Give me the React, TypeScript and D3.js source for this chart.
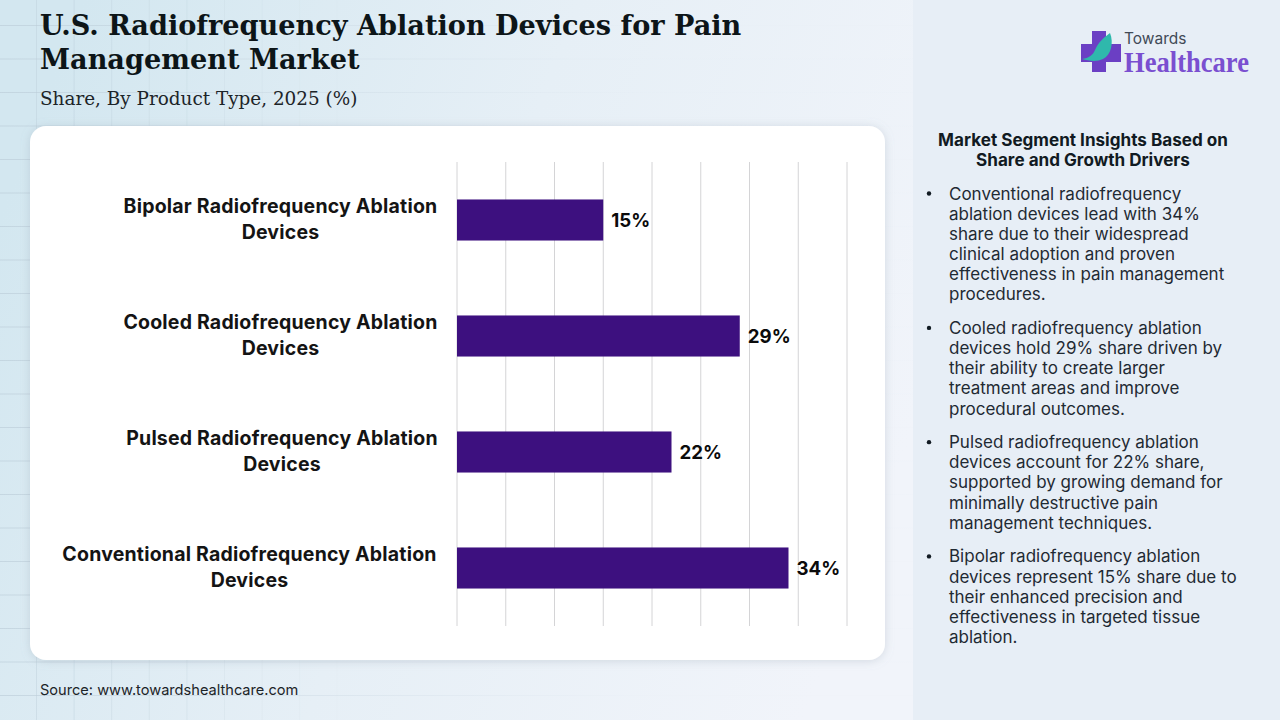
import { useMemo } from "react";
import * as d3 from "d3";

const categories = [
  ["Bipolar Radiofrequency Ablation", "Devices"],
  ["Cooled Radiofrequency Ablation", "Devices"],
  ["Pulsed Radiofrequency Ablation", "Devices"],
  ["Conventional Radiofrequency Ablation", "Devices"],
];
const shares = [15, 29, 22, 34];
const ticks = [0, 5, 10, 15, 20, 25, 30, 35, 40];

const titleLines = ["U.S. Radiofrequency Ablation Devices for Pain", "Management Market"];
const subtitle = "Share, By Product Type, 2025 (%)";
const source = "Source: www.towardshealthcare.com";

const panelTitle = ["Market Segment Insights Based on", "Share and Growth Drivers"];
const bullets = [
  ["Conventional radiofrequency", "ablation devices lead with 34%", "share due to their widespread", "clinical adoption and proven", "effectiveness in pain management", "procedures."],
  ["Cooled radiofrequency ablation", "devices hold 29% share driven by", "their ability to create larger", "treatment areas and improve", "procedural outcomes."],
  ["Pulsed radiofrequency ablation", "devices account for 22% share,", "supported by growing demand for", "minimally destructive pain", "management techniques."],
  ["Bipolar radiofrequency ablation", "devices represent 15% share due to", "their enhanced precision and", "effectiveness in targeted tissue", "ablation."],
];

const SANS = "Inter, 'Noto Sans', sans-serif";
const SERIF = "'DejaVu Serif', serif";
const PLOT = { left: 457, right: 847, top: 162, bottom: 626 };
const BAR_COLOR = "#3d107f";

export default function App() {
  const x = useMemo(() => d3.scaleLinear().domain([0, 40]).range([PLOT.left, PLOT.right]), []);
  const y = useMemo(
    () =>
      d3
        .scaleBand<number>()
        .domain(categories.map((_, i) => i))
        .range([PLOT.top, PLOT.bottom])
        .paddingInner(0.646)
        .paddingOuter(0.323),
    []
  );

  // background grid, only decoration
  const gridX = d3.range(36, 920, 37.6);
  const gridY = d3.range(25, 720, 33.5);

  let lineY = 199.5;
  const bulletRows = bullets.map((lines) => {
    const top = lineY;
    lineY += lines.length * 20.15 + 13.5;
    return { lines, top };
  });

  return (
    <div style={{ position: "absolute", left: 0, top: 0 }}>
      <svg width={1280} height={720} style={{ display: "block" }}>
        <defs>
          <linearGradient id="bg" x1="0" y1="0.3" x2="1" y2="0.6">
            <stop offset="0" stopColor="#d3e7f0" />
            <stop offset="0.5" stopColor="#e6eff6" />
            <stop offset="1" stopColor="#f1f4fa" />
          </linearGradient>
          <linearGradient id="gridFade" x1="0" x2="1" y1="0" y2="0">
            <stop offset="0" stopColor="#b9cad6" stopOpacity={0.6} />
            <stop offset="0.7" stopColor="#c8d4e0" stopOpacity={0.03} />
          </linearGradient>
          <filter id="cardShadow" x="-5%" y="-5%" width="110%" height="110%">
            <feDropShadow dx="0" dy="1" stdDeviation="5" floodColor="#8a9aa8" floodOpacity={0.3} />
          </filter>
        </defs>

        <rect width={913} height={720} fill="url(#bg)" />
        <rect x={913} width={367} height={720} fill="#e7eef6" />
        <g>
          {gridX.map((d) => (
            <rect key={d} x={d} y={0} width={1} height={720} fill="#bccdd8" opacity={Math.max(0, 0.5 - d / 700)} />
          ))}
          {gridY.map((d) => (
            <rect key={d} x={0} y={d} width={913} height={1} fill="url(#gridFade)" />
          ))}
        </g>

        <g fontFamily={SERIF} fill="#0d1518">
          {titleLines.map((t, i) => (
            <text key={t} x={40} y={35 + i * 34} fontSize={27.15} fontWeight={700}>
              {t}
            </text>
          ))}
          <text x={40} y={104.5} fontSize={18.4} fill="#1c2428">
            {subtitle}
          </text>
        </g>

        <rect x={30} y={126} width={855} height={534} rx={16} fill="#fff" filter="url(#cardShadow)" />

        {ticks.map((t) => (
          <line key={t} x1={x(t)} x2={x(t)} y1={PLOT.top} y2={PLOT.bottom} stroke="#d4d4d6" strokeWidth={1} />
        ))}

        {shares.map((v, i) => {
          const by = y(i) as number;
          const bh = y.bandwidth();
          return (
            <g key={i}>
              <rect x={x(0)} y={by} width={x(v) - x(0)} height={bh} fill={BAR_COLOR} />
              <text x={x(v) + 8} y={by + bh / 2 + 7} fontFamily={SANS} fontSize={18.7} fontWeight={700} fill="#0b0b0b">
                {v}%
              </text>
              <text fontFamily={SANS} fontSize={19.5} fontWeight={700} fill="#141414" textAnchor="middle" letterSpacing={0.2}>
                {categories[i].map((l, j) => {
                  const cx = i === 3 ? 249.5 : i === 2 ? 282 : 280.5;
                  return (
                    <tspan key={l} x={cx} y={by + j * 26 + 13.8}>
                      {l}
                    </tspan>
                  );
                })}
              </text>
            </g>
          );
        })}

        <text x={40} y={695} fontFamily={SANS} fontSize={14.6} fill="#1c2428">
          {source}
        </text>

        <g fontFamily={SANS} fill="#111a22">
          {panelTitle.map((t, i) => (
            <text key={t} x={1083} y={146 + i * 20} fontSize={17.1} fontWeight={700} textAnchor="middle">
              {t}
            </text>
          ))}
          {bulletRows.map(({ lines, top }) => (
            <g key={lines[0]} fontSize={17} fill="#1f2a33">
              <circle cx={929} cy={top - 6} r={2.2} fill="#111a22" />
              {lines.map((l, j) => (
                <text key={l} x={949} y={top + j * 20.15}>
                  {l}
                </text>
              ))}
            </g>
          ))}
        </g>

        <g>
          <path d="M1092 31h14v13h15v18h-15v10h-14v-10h-11v-18h11z" fill="#6b3fc4" />
          <path d="M1110 33c4 10 1 22-7 26-6 3-14 2-21 0 7-1 11-4 13-9 3-7 8-12 15-17z" fill="#2fb8ac" />
          <text x={1124} y={44} fontFamily={SANS} fontSize={15.5} fill="#414a56">
            Towards
          </text>
          <text x={1124} y={72} fontFamily="'Liberation Serif', serif" fontSize={29} fontWeight={700} fill="#7a4fd0" textLength={125} lengthAdjust="spacingAndGlyphs">
            Healthcare
          </text>
        </g>
      </svg>
    </div>
  );
}
